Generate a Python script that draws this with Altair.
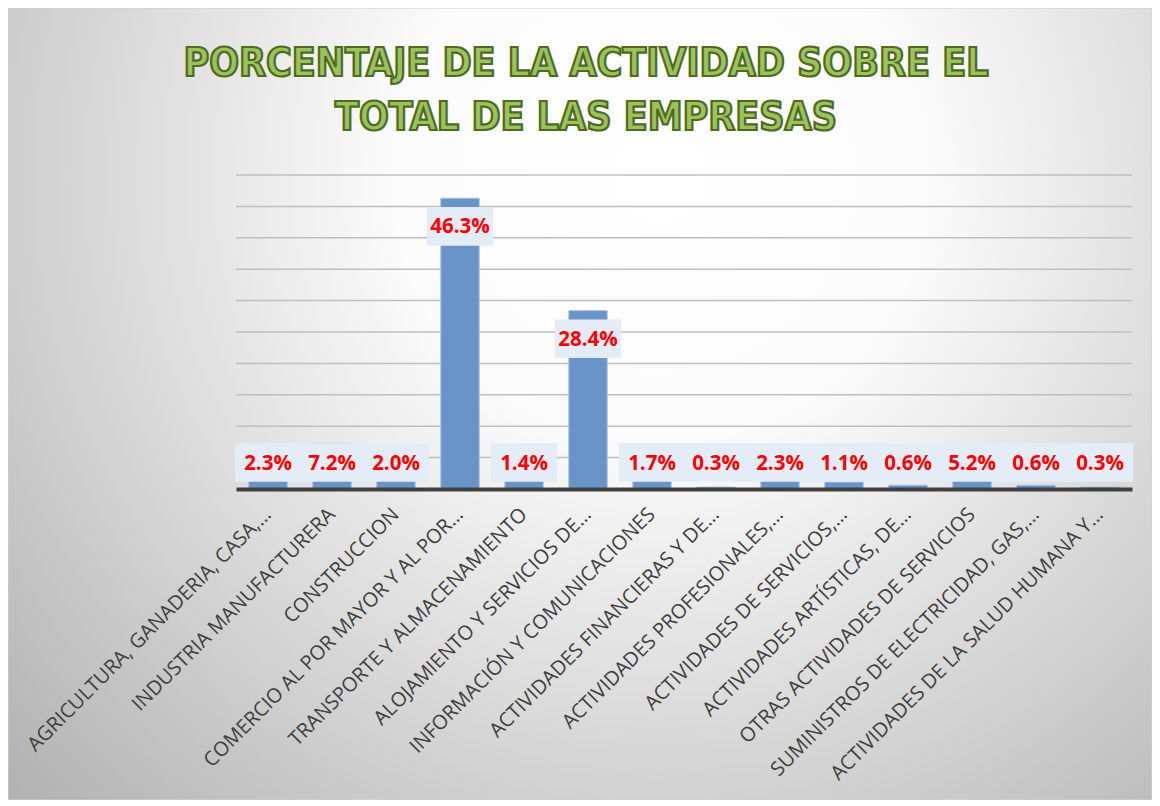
import altair as alt
import pandas as pd

categories = [
    "AGRICULTURA, GANADERIA, CASA,…",
    "INDUSTRIA MANUFACTURERA",
    "CONSTRUCCION",
    "COMERCIO AL  POR MAYOR Y  AL POR…",
    "TRANSPORTE Y  ALMACENAMIENTO",
    "ALOJAMIENTO Y  SERVICIOS DE…",
    "INFORMACIÓN Y  COMUNICACIONES",
    "ACTIVIDADES  FINANCIERAS Y  DE…",
    "ACTIVIDADES  PROFESIONALES,…",
    "ACTIVIDADES  DE SERVICIOS,…",
    "ACTIVIDADES  ARTÍSTICAS, DE…",
    "OTRAS  ACTIVIDADES DE SERVICIOS",
    "SUMINISTROS DE ELECTRICIDAD, GAS,…",
    "ACTIVIDADES DE LA SALUD HUMANA Y…",
]
values = [2.3, 7.2, 2.0, 46.3, 1.4, 28.4, 1.7, 0.3, 2.3, 1.1, 0.6, 5.2, 0.6, 0.3]
title_lines = ["PORCENTAJE DE LA ACTIVIDAD SOBRE EL", "TOTAL DE LAS EMPRESAS"]

df = pd.DataFrame({"cat": categories, "v": values})
df["lbl"] = [f"{v:.1f}%" for v in values]

W, H = 896, 314
PADL, PADT, PADR, PADB = 228, 167, 20, 311

xenc = alt.X(
    "cat:N",
    sort=categories,
    scale=alt.Scale(paddingInner=0.4, paddingOuter=0.2),
    axis=alt.Axis(
        title=None,
        labelAngle=-45,
        labelAlign="right",
        labelBaseline="middle",
        labelFont="Open Sans",
        labelFontSize=20,
        labelColor="#404040",
        labelLimit=800,
        labelPadding=22,
        ticks=False,
        domainColor="#404040",
        domainWidth=4,
        zindex=1,
    ),
)
yscale = alt.Scale(domain=[0, 50], nice=False, zero=True)

bg = alt.Chart(pd.DataFrame({"a": [0]})).mark_rect(
    fill={
        "gradient": "radial",
        "x1": 0.57, "y1": 0.3, "r1": 0,
        "x2": 0.57, "y2": 0.3, "r2": 0.78,
        "stops": [
            {"offset": 0, "color": "#ffffff"},
            {"offset": 0.3, "color": "#fbfbfb"},
            {"offset": 1, "color": "#b2b2b2"},
        ],
    },
    stroke="#d0d0d0",
    strokeWidth=1,
).encode(
    x=alt.value(-PADL), x2=alt.value(W + PADR),
    y=alt.value(-PADT), y2=alt.value(H + PADB),
)

grid = alt.Chart(alt.sequence(5, 51, 5, as_="g")).mark_rule(
    color="#bfbfbf", strokeWidth=1.5
).encode(
    x=alt.value(0), x2=alt.value(W),
    y=alt.Y("g:Q", scale=yscale, axis=None),
)

bars = alt.Chart(df).mark_bar(
    color="#6994c8", stroke="#a4bfe2", strokeWidth=1
).encode(
    x=xenc,
    y=alt.Y("v:Q", scale=yscale, axis=None),
)

base_lbl = alt.Chart(df).transform_calculate(
    ly="max(datum.v - 4.5, 4.2)"
).transform_calculate(
    lo="datum.ly - 3.05", hi="datum.ly + 3.1"
)

boxes = base_lbl.mark_rect(color="#e4ecf8", width=66).encode(
    x=xenc,
    y=alt.Y("lo:Q", scale=yscale, axis=None),
    y2="hi:Q",
)

texts = base_lbl.mark_text(
    font="Open Sans", fontSize=20.5, fontWeight="bold", color="#ff0000",
    baseline="middle", dy=1,
).encode(
    x=xenc,
    y=alt.Y("ly:Q", scale=yscale, axis=None),
    text="lbl:N",
)

TFONT = "DejaVu Sans Condensed, DejaVu Sans, sans-serif"
title1 = alt.Chart(pd.DataFrame({"t": [title_lines[0]]})).mark_text(
    font=TFONT,
    fontSize=39, fontWeight="bold", fill="#9bc25c", stroke="#4e6b1f",
    strokeWidth=2.2, baseline="alphabetic", align="center",
).encode(x=alt.value(350), y=alt.value(-99), text="t:N")
title2 = alt.Chart(pd.DataFrame({"t": [title_lines[1]]})).mark_text(
    font=TFONT,
    fontSize=39, fontWeight="bold", fill="#9bc25c", stroke="#4e6b1f",
    strokeWidth=2.2, baseline="alphabetic", align="center",
).encode(x=alt.value(350), y=alt.value(-45), text="t:N")

chart = alt.layer(bg, grid, bars, boxes, texts, title1, title2).properties(
    width=W, height=H,
    padding={"left": PADL, "top": PADT, "right": PADR, "bottom": PADB},
    autosize=alt.AutoSizeParams(type="none"),
).configure_view(stroke=None)

chart.save("out.html", embed_options={"renderer": "svg", "actions": False})
